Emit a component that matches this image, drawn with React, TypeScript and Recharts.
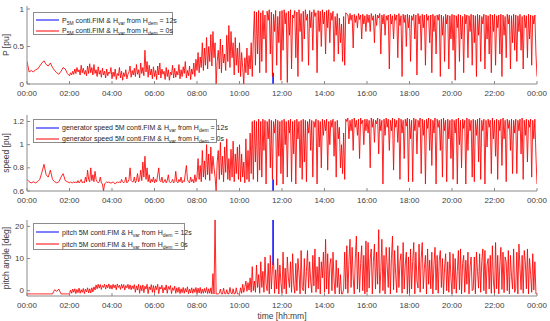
import React from "react";
import { LineChart, Line, XAxis, YAxis } from "recharts";

// one row per hour (00:00 ... 23:00), samples spread evenly within the hour
const P_RED = [
  [0.30, 0.16, 0.18, 0.16, 0.19, 0.20, 0.24, 0.28, 0.31, 0.26],
  [0.24, 0.28, 0.22, 0.18, 0.15, 0.13, 0.17, 0.22, 0.20, 0.14],
  [0.11, 0.15, 0.12, 0.17, 0.13, 0.20, 0.14, 0.22, 0.16, 0.19, 0.12, 0.25, 0.15, 0.21, 0.13, 0.18, 0.11, 0.24, 0.14, 0.27],
  [0.15, 0.22, 0.12, 0.26, 0.14, 0.19, 0.10, 0.23, 0.13, 0.18, 0.09, 0.21, 0.12, 0.17, 0.08, 0.20, 0.11, 0.16, 0.14, 0.22],
  [0.07, 0.16, 0.10, 0.20, 0.06, 0.14, 0.11, 0.22, 0.08, 0.17, 0.05, 0.15, 0.10, 0.19, 0.07, 0.13, 0.16, 0.24, 0.09, 0.18],
  [0.12, 0.21, 0.10, 0.26, 0.13, 0.19, 0.08, 0.28, 0.14, 0.22, 0.11, 0.45, 0.16, 0.30, 0.09, 0.25, 0.12, 0.20, 0.07, 0.23],
  [0.10, 0.18, 0.06, 0.24, 0.12, 0.28, 0.08, 0.20, 0.13, 0.17, 0.06, 0.22, 0.10, 0.19, 0.05, 0.16, 0.12, 0.25, 0.08, 0.21],
  [0.09, 0.17, 0.12, 0.26, 0.07, 0.19, 0.10, 0.23, 0.14, 0.30, 0.08, 0.18, 0.11, 0.24, 0.06, 0.20, 0.13, 0.28, 0.10, 0.33],
  [0.18, 0.42, 0.15, 0.36, 0.22, 0.55, 0.18, 0.48, 0.25, 0.62, 0.20, 0.50, 0.30, 0.66, 0.24, 0.70, 0.35, 0.55, 0.00, 0.30],
  [0.45, 0.20, 0.60, 0.15, 0.52, 0.28, 0.40, 0.18, 0.65, 0.30, 0.78, 0.22, 0.70, 0.35, 0.55, 0.12, 0.62, 0.25, 0.48, 0.15],
  [0.55, 0.10, 0.42, 0.22, 0.00, 0.35, 0.15, 0.48, 0.12, 0.38, 0.20, 0.55, 0.10, 0.60, 0.97, 0.25, 0.96, 0.40, 0.98, 0.15],
  [0.95, 0.30, 0.98, 0.60, 0.92, 0.15, 0.97, 0.85, 0.99, 0.40, 0.96, 0.10, 0.93, 0.70, 0.98, 0.25, 0.90, 0.55, 0.97, 0.05],
  [0.98, 0.45, 0.99, 0.80, 0.95, 0.02, 0.97, 0.65, 0.99, 0.20, 0.92, 0.88, 0.98, 0.35, 0.96, 0.10, 0.99, 0.70, 0.94, 0.30],
  [0.97, 0.60, 0.99, 0.85, 0.93, 0.25, 0.98, 0.75, 0.96, 0.45, 0.99, 0.90, 0.95, 0.15, 0.98, 0.70, 0.97, 0.50, 0.99, 0.80],
  [0.96, 0.40, 0.98, 0.75, 0.99, 0.55, 0.95, 0.85, 0.97, 0.30, 0.90, 0.65, 0.94, 0.40, 0.88, 0.55, 0.80, 0.30, 0.90, 0.25],
  [0.95, 0.93, 0.92, 0.80, 0.94, 0.85, 0.92, 0.48, 0.93, 0.82, 0.91, 0.75, 0.94, 0.86, 0.92, 0.60, 0.93, 0.80, 0.91, 0.70],
  [0.93, 0.82, 0.92, 0.70, 0.94, 0.85, 0.91, 0.55, 0.93, 0.78, 0.92, 0.88, 0.94, 0.40, 0.92, 0.80, 0.93, 0.65, 0.91, 0.85],
  [0.92, 0.20, 0.93, 0.80, 0.91, 0.60, 0.93, 0.85, 0.92, 0.35, 0.94, 0.78, 0.91, 0.10, 0.93, 0.82, 0.92, 0.50, 0.93, 0.75],
  [0.92, 0.30, 0.91, 0.85, 0.93, 0.60, 0.92, 0.12, 0.94, 0.80, 0.91, 0.45, 0.93, 0.75, 0.92, 0.25, 0.93, 0.85, 0.91, 0.55],
  [0.92, 0.15, 0.93, 0.70, 0.91, 0.40, 0.92, 0.85, 0.93, 0.10, 0.92, 0.65, 0.90, 0.30, 0.93, 0.80, 0.92, 0.20, 0.91, 0.60],
  [0.93, 0.45, 0.92, 0.05, 0.91, 0.75, 0.93, 0.30, 0.92, 0.60, 0.90, 0.15, 0.93, 0.80, 0.92, 0.35, 0.91, 0.70, 0.93, 0.25],
  [0.92, 0.55, 0.91, 0.10, 0.93, 0.65, 0.92, 0.30, 0.90, 0.80, 0.93, 0.20, 0.92, 0.60, 0.91, 0.40, 0.93, 0.15, 0.92, 0.70],
  [0.93, 0.25, 0.91, 0.75, 0.92, 0.40, 0.93, 0.10, 0.92, 0.65, 0.90, 0.35, 0.93, 0.80, 0.92, 0.20, 0.91, 0.55, 0.93, 0.45],
  [0.92, 0.30, 0.91, 0.70, 0.93, 0.45, 0.90, 0.20, 0.92, 0.75, 0.91, 0.35, 0.93, 0.60, 0.92, 0.25, 0.91, 0.80, 0.92, 0.40],
];
const P_END = 0.1;

const SPEED_RED = [
  [0.70, 0.68, 0.67, 0.68, 0.67, 0.68, 0.70, 0.76, 0.83, 0.74],
  [0.72, 0.78, 0.70, 0.68, 0.67, 0.68, 0.72, 0.75, 0.69, 0.68],
  [0.67, 0.68, 0.67, 0.67, 0.68, 0.67, 0.68, 0.67, 0.69, 0.67, 0.68, 0.70, 0.67, 0.68, 0.67, 0.72, 0.68, 0.78, 0.70, 0.68],
  [0.80, 0.69, 0.74, 0.68, 0.77, 0.70, 0.68, 0.67, 0.68, 0.72, 0.67, 0.66, 0.60, 0.66, 0.67, 0.68, 0.67, 0.68, 0.67, 0.67],
  [0.67, 0.68, 0.67, 0.66, 0.67, 0.68, 0.67, 0.68, 0.67, 0.70, 0.68, 0.67, 0.68, 0.72, 0.67, 0.68, 0.70, 0.80, 0.69, 0.68],
  [0.68, 0.72, 0.67, 0.69, 0.75, 0.68, 0.70, 0.78, 0.69, 0.85, 0.72, 0.90, 0.70, 0.80, 0.68, 0.74, 0.67, 0.70, 0.68, 0.72],
  [0.67, 0.70, 0.68, 0.74, 0.80, 0.69, 0.68, 0.72, 0.67, 0.68, 0.70, 0.67, 0.69, 0.74, 0.68, 0.67, 0.68, 0.70, 0.67, 0.68],
  [0.77, 0.68, 0.67, 0.70, 0.68, 0.72, 0.67, 0.69, 0.68, 0.75, 0.82, 0.70, 0.68, 0.67, 0.72, 0.68, 0.70, 0.67, 0.74, 0.68],
  [0.72, 0.88, 0.70, 0.82, 0.68, 0.95, 0.72, 0.86, 0.70, 1.00, 0.74, 0.92, 0.69, 0.98, 0.75, 0.90, 0.80, 0.72, 0.60, 0.85],
  [0.95, 0.70, 1.02, 0.74, 0.90, 0.68, 0.98, 0.76, 1.05, 0.70, 0.88, 0.69, 0.96, 0.72, 1.03, 0.68, 0.92, 0.75, 0.98, 0.70],
  [1.00, 0.68, 0.92, 0.72, 0.85, 0.67, 1.05, 0.70, 0.95, 0.68, 1.10, 0.75, 1.20, 0.70, 1.21, 0.85, 1.20, 0.68, 1.22, 0.78],
  [1.20, 0.72, 1.22, 0.95, 1.21, 0.66, 1.20, 1.05, 1.22, 0.80, 1.21, 0.70, 1.20, 1.10, 1.22, 0.65, 1.21, 0.90, 1.20, 0.75],
  [1.21, 0.66, 1.22, 1.00, 1.20, 0.72, 1.21, 1.10, 1.22, 0.68, 1.20, 0.92, 1.21, 0.66, 1.22, 1.05, 1.20, 0.80, 1.21, 0.70],
  [1.22, 0.85, 1.21, 0.68, 1.20, 1.10, 1.22, 0.95, 1.21, 0.72, 1.20, 1.15, 1.22, 0.66, 1.21, 0.98, 1.20, 0.80, 1.22, 1.08],
  [1.21, 1.12, 1.22, 0.78, 1.20, 1.00, 1.21, 1.15, 1.22, 0.90, 1.20, 0.72, 1.21, 1.05, 1.15, 0.80, 1.00, 0.75, 1.10, 0.70],
  [1.22, 1.20, 1.23, 1.05, 1.21, 1.12, 1.22, 0.95, 1.23, 1.15, 1.21, 1.08, 1.22, 0.88, 1.23, 1.18, 1.21, 1.00, 1.22, 1.12],
  [1.22, 1.10, 1.21, 0.80, 1.23, 1.15, 1.22, 1.02, 1.21, 1.18, 1.23, 0.92, 1.22, 1.12, 1.21, 0.66, 1.22, 1.08, 1.23, 1.15],
  [1.22, 0.95, 1.21, 1.12, 1.23, 0.78, 1.22, 1.15, 1.21, 1.02, 1.23, 0.70, 1.22, 1.10, 1.21, 0.88, 1.22, 1.16, 1.23, 0.68],
  [1.22, 1.05, 1.21, 0.68, 1.23, 1.12, 1.22, 0.92, 1.21, 1.15, 1.23, 0.75, 1.22, 1.08, 1.21, 0.66, 1.22, 1.14, 1.23, 0.95],
  [1.22, 0.82, 1.21, 1.10, 1.23, 0.66, 1.22, 1.15, 1.21, 0.95, 1.22, 0.72, 1.23, 1.12, 1.21, 0.68, 1.22, 1.05, 1.21, 0.88],
  [1.22, 0.70, 1.21, 1.10, 1.22, 0.66, 1.23, 1.00, 1.21, 0.80, 1.22, 1.14, 1.21, 0.66, 1.23, 0.95, 1.22, 1.12, 1.21, 0.72],
  [1.22, 0.68, 1.21, 1.08, 1.22, 0.85, 1.23, 0.70, 1.21, 1.12, 1.22, 0.66, 1.21, 0.98, 1.22, 1.15, 1.21, 0.75, 1.23, 1.05],
  [1.21, 0.90, 1.22, 0.70, 1.21, 1.12, 1.22, 0.82, 1.23, 1.05, 1.21, 0.68, 1.22, 1.14, 1.21, 0.95, 1.22, 0.75, 1.21, 1.10],
  [1.22, 0.75, 1.21, 1.12, 1.22, 0.92, 1.23, 0.70, 1.21, 1.08, 1.22, 0.85, 1.21, 1.15, 1.22, 0.72, 1.21, 1.05, 1.22, 0.90],
];
const SPEED_END = 0.66;

const PITCH_RED = [
  [-1, -1, -1, -1, -1, -1, -1, -1, -1, -1],
  [-1, -1, -1, 0.3, -0.2, 0.5, -1, -1, -1, -1],
  [-1, 0.2, -0.8, 0.5, -0.5, 0.6, -0.9, 0.4, -0.6, 0.8, -0.8, 0.3, -0.5, 0.7, -0.9, 0.5, -0.4, 0.9, -0.7, 0.6],
  [-0.7, 0.9, -0.4, 1.2, 0.2, 1.8, 0.6, 2.0, 0.8, 1.9, 0.4, 1.6, 1.0, 2.0, 0.5, 1.8, 0.9, 2.1, 0.6, 1.7],
  [0.5, 2.0, 0.9, 1.8, 0.3, 2.1, 1.0, 1.7, 0.4, 2.0, 0.8, 1.9, 0.2, 1.6, 0.9, 2.0, 0.5, 1.8, 0.3, 1.5],
  [0.6, 1.9, -0.5, 1.5, 0.2, 2.0, -0.8, 1.6, 0.0, 1.8, -0.6, 1.4, 0.5, 2.0, -0.9, 1.2, 0.3, 1.9, -0.5, 1.6],
  [-0.6, 1.5, 0.3, 2.0, -0.9, 1.2, 0.5, 1.7, -0.7, 1.0, 0.2, 1.8, -0.8, 1.3, 0.4, 1.6, -0.9, 0.9, 0.1, 1.4],
  [-0.8, 0.9, -0.5, 1.1, -0.9, 0.6, -0.6, 1.0, -0.8, 0.7, -0.4, 1.2, -0.9, 0.5, -0.7, 0.9, -0.8, 0.6, -0.5, 1.0],
  [-0.9, 0.8, -0.7, 1.0, -0.9, 0.5, -0.8, 0.7, -0.6, 1.0, -0.9, 0.6, -0.8, 0.9, -1, 5.3, -1, 22, -1, -1],
  [-1, -0.8, 0.5, -1, -1, 0.8, -0.9, -1, 0.3, -1, -1, 1.0, -0.7, -1, 0.6, -1, -0.9, 0.9, -1, -1],
  [-1, 0.9, -0.8, 2.0, -0.5, 1.0, 3.0, -0.2, 2.5, 0.2, 4.0, -0.5, 7.5, 0.0, 3.0, -0.5, 8.0, 1.0, 5.0, -0.8],
  [9.0, 1.0, 6.0, -0.5, 10.5, 2.0, 0.0, 8.5, -1, 11.0, 0.5, 7.0, 9.5, -0.8, 6.5, 0.5, 10.0, -1, 8.0, 2.5],
  [-0.8, 12.0, 0.5, 7.0, -1, 10.5, 4.0, 1.0, 9.0, -0.5, 11.5, 2.0, -0.8, 8.5, 0.0, 10.0, 5.5, -1, 12.5, 1.0],
  [0.0, 10.0, -1, 6.0, 12.5, 0.8, 9.0, 3.0, -0.6, 11.0, 1.5, 13.0, -0.5, 7.5, 0.5, 10.5, -1, 9.0, 4.0, 12.0],
  [-0.5, 16.0, 0.5, 11.5, -1, 8.0, 10.0, 0.0, 12.0, 3.0, -1, 9.5, 1.0, 7.0, -1, 5.0, -1, -1, 0.5, 12.0],
  [0.5, 14.0, -0.8, 9.0, 16.0, 1.0, 13.5, 4.0, -1, 10.0, 17.0, 0.5, 12.0, -0.5, 8.5, 14.0, 0.0, 11.0, -1, 15.5],
  [-0.5, 15.0, 0.8, 10.0, 13.0, -1, 9.0, 14.5, 0.5, 12.0, 2.0, 19.0, -0.8, 6.0, 16.0, 0.0, 11.0, -1, 13.5, 8.0],
  [1.0, 13.5, -1, 10.0, 17.0, 0.3, 12.5, 5.0, -0.6, 14.0, 1.0, 9.0, 11.5, -0.8, 15.0, 0.5, 8.0, 12.0, -1, 10.5],
  [-0.8, 13.0, 0.5, 9.0, 15.0, -1, 12.0, 3.0, 0.8, 14.5, -0.5, 10.0, 15.0, 0.6, 7.0, 11.0, -1, 13.0, 2.0, 9.5],
  [0.6, 12.0, -1, 8.0, 13.5, 0.2, 11.0, -0.8, 9.5, 12.5, 1.0, 10.0, -1, 7.0, 11.5, 0.0, 9.0, -0.5, 12.0, 4.0],
  [-1, 11.5, 0.5, 10.0, -0.8, 6.0, 12.5, 0.3, 13.0, -1, 8.5, 11.0, -0.5, 9.5, 2.0, 12.0, -1, 7.5, 10.5, 0.0],
  [0.5, 10.5, -1, 12.0, 6.0, 0.8, 11.5, -0.5, 9.0, 13.0, 0.0, 12.5, -1, 8.0, 10.0, 0.5, 11.0, -0.8, 14.0, 3.0],
  [-0.8, 15.0, 0.6, 11.0, -1, 8.0, 13.5, 0.4, 12.0, -0.6, 10.5, 9.0, 0.0, 12.5, -1, 11.0, 4.5, 0.5, 13.0, -0.5],
  [0.8, 12.0, -1, 14.5, 7.0, 0.3, 11.0, -0.8, 12.5, 9.0, 0.6, 13.0, -1, 10.0, 5.0, -0.5, 11.5, 0.2, 9.0, -1],
];
const PITCH_END = -1;

// blue (Hdem = 12s) lies under the red trace except for one short event near 11:35
const BLUE_T = [11.575, 11.58, 11.585];
const P_BLUE = [0.15, 0.0, 0.15];
const SPEED_BLUE = [0.7, 0.6, 0.7];
const PITCH_BLUE = [8, 22, 8];

const HOUR_TICKS = [0, 2, 4, 6, 8, 10, 12, 14, 16, 18, 20, 22, 24];

const FONT = "'Liberation Sans', Arial, sans-serif";
const AXIS = "#8a8a8a";
const TXT = "#404040";
const RED = "#ff0000";
const BLUE = "#0000ff";

const toRows = (hours: number[][], end: number) => [
  ...hours.flatMap((row, h) => row.map((v, k) => ({ t: h + k / row.length, v }))),
  { t: 24, v: end },
];
const toBlue = (vals: number[]) => vals.map((v, i) => ({ t: BLUE_T[i], v }));

const fmtHour = (h: number) => `${String(h % 24).padStart(2, "0")}:00`;

const XTick = (props: any) => {
  const { x, y, payload } = props;
  return (
    <g>
      <line x1={x} x2={x} y1={y} y2={y - 3} stroke={AXIS} />
      <text x={x} y={y + 11.5} textAnchor="middle" fontSize={8} fill={TXT} fontFamily={FONT}>
        {fmtHour(payload.value)}
      </text>
    </g>
  );
};

const YTick = (props: any) => {
  const { x, y, payload } = props;
  return (
    <g>
      <line x1={x} x2={x + 3} y1={y} y2={y} stroke={AXIS} />
      <text x={x - 3} y={y + 2.5} textAnchor="end" fontSize={8} fill={TXT} fontFamily={FONT}>
        {payload.value}
      </text>
    </g>
  );
};

interface PanelProps {
  top: number;
  height: number;
  marginTop: number;
  xHeight: number;
  red: { t: number; v: number }[];
  blue: number[];
  domain: [number, number];
  ticks: number[];
  yLabel: string;
  xLabel?: string;
}

function Panel({ top, height, marginTop, xHeight, red, blue, domain, ticks, yLabel, xLabel }: PanelProps) {
  return (
    <div style={{ position: "absolute", left: 0, top }}>
      <LineChart width={550} height={height} margin={{ top: marginTop, right: 13, left: 0, bottom: 0 }}>
        <XAxis
          type="number"
          dataKey="t"
          domain={[0, 24]}
          ticks={HOUR_TICKS}
          height={xHeight}
          tickSize={0}
          tickMargin={0}
          tick={<XTick />}
          stroke={AXIS}
          allowDataOverflow
          label={
            xLabel
              ? { value: xLabel, position: "insideBottom", offset: 2, fontSize: 8.5, fill: TXT, fontFamily: FONT }
              : undefined
          }
        />
        <YAxis
          type="number"
          dataKey="v"
          width={27}
          domain={domain}
          ticks={ticks}
          tickSize={0}
          tickMargin={0}
          tick={<YTick />}
          stroke={AXIS}
          allowDataOverflow
          label={{
            value: yLabel,
            angle: -90,
            position: "insideLeft",
            offset: 6,
            textAnchor: "middle",
            fontSize: 8.5,
            fill: TXT,
            fontFamily: FONT,
          }}
        />
        <Line data={toBlue(blue)} dataKey="v" stroke={BLUE} strokeWidth={1} dot={false} isAnimationActive={false} />
        <Line data={red} dataKey="v" stroke={RED} strokeWidth={0.85} dot={false} isAnimationActive={false} />
      </LineChart>
    </div>
  );
}

const Sub = ({ children }: { children: React.ReactNode }) => (
  <span style={{ fontSize: 5, position: "relative", top: 2 }}>{children}</span>
);

function LegendBox({ top, width, height, rowGap, items }: any) {
  return (
    <div
      style={{
        position: "absolute",
        left: 33,
        top,
        width,
        height,
        boxSizing: "border-box",
        border: "1px solid #8c8c8c",
        background: "#fff",
        fontFamily: FONT,
        fontSize: 7,
        color: "#262626",
        paddingTop: 2,
      }}
    >
      {items.map((it: any, i: number) => (
        <div key={i} style={{ display: "flex", alignItems: "center", height: rowGap, whiteSpace: "nowrap" }}>
          <svg width={28} height={4} style={{ flex: "none" }}>
            <line x1={2} x2={25} y1={2} y2={2} stroke={it.color} strokeWidth={1} />
          </svg>
          <span>{it.label}</span>
        </div>
      ))}
    </div>
  );
}

export default function App() {
  return (
    <div style={{ position: "fixed", left: 0, top: 0, width: 550, height: 321, background: "#fff", overflow: "hidden" }}>
      <Panel top={0} height={100} marginTop={6} xHeight={16} red={toRows(P_RED, P_END)} blue={P_BLUE}
        domain={[0, 1.04]} ticks={[0, 0.5, 1]} yLabel="P [pu]" />
      <Panel top={100} height={107} marginTop={15} xHeight={16} red={toRows(SPEED_RED, SPEED_END)} blue={SPEED_BLUE}
        domain={[0.6, 1.256]} ticks={[0.6, 0.8, 1, 1.2]} yLabel="speed [pu]" />
      <Panel top={210} height={111} marginTop={10} xHeight={25} red={toRows(PITCH_RED, PITCH_END)} blue={PITCH_BLUE}
        domain={[-1.65, 22]} ticks={[0, 5, 10, 15, 20]} yLabel="pitch angle [deg]" xLabel="time [hh:mm]" />
      <LegendBox top={12} width={140} height={23} rowGap={10.5} items={[
        { color: BLUE, label: <>P<Sub>5M</Sub> conti.FIM &amp; H<Sub>var</Sub> from H<Sub>dem</Sub> = 12s</> },
        { color: RED, label: <>P<Sub>5M</Sub> conti.FIM &amp; H<Sub>var</Sub> from H<Sub>dem</Sub> = 0s</> },
      ]} />
      <LegendBox top={119} width={184} height={24} rowGap={11} items={[
        { color: BLUE, label: <>generator speed 5M conti.FIM &amp; H<Sub>var</Sub> from H<Sub>dem</Sub> = 12s</> },
        { color: RED, label: <>generator speed 5M conti.FIM &amp; H<Sub>var</Sub> from H<Sub>dem</Sub> = 0s</> },
      ]} />
      <LegendBox top={223} width={152} height={27} rowGap={12} items={[
        { color: BLUE, label: <>pitch 5M conti.FIM &amp; H<Sub>var</Sub> from H<Sub>dem</Sub> = 12s</> },
        { color: RED, label: <>pitch 5M conti.FIM &amp; H<Sub>var</Sub> from H<Sub>dem</Sub> = 0s</> },
      ]} />
    </div>
  );
}
